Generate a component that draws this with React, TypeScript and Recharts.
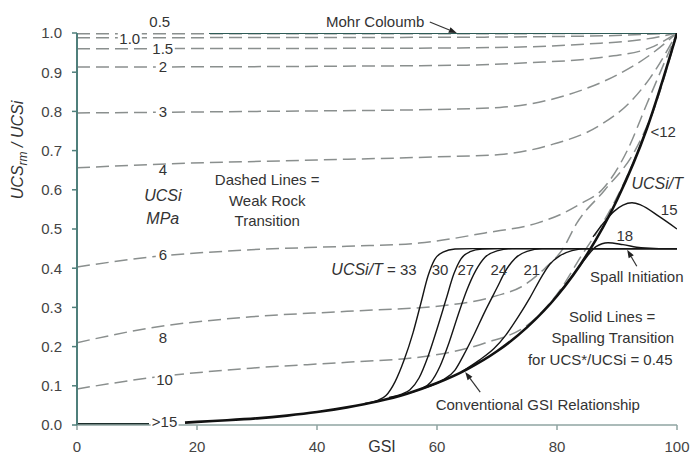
import React from "react"
import { LineChart, Line, XAxis, YAxis, ReferenceDot, ReferenceLine } from "recharts"

type Pt = [number, number]

// axis ticks
const gsiTicks = [0, 20, 40, 60, 80, 100]
const ratioTicks = [0, 0.1, 0.2, 0.3, 0.4, 0.5, 0.6, 0.7, 0.8, 0.9, 1.0]

// dashed lines: weak rock transition, one per UCSi (MPa) -> [GSI, UCSrm/UCSi]
const dash0_5: Pt[] = [[0, 0.998], [60, 0.998], [100, 1]]
const dash1_0: Pt[] = [[0, 0.988], [60, 0.989], [85, 0.992], [100, 1]]
const dash1_5: Pt[] = [[0, 0.96], [50, 0.961], [70, 0.963], [85, 0.972], [95, 0.985], [100, 1]]
const dash2: Pt[] = [[0, 0.913], [40, 0.915], [65, 0.918], [75, 0.924], [87, 0.937], [95.5, 0.962], [100, 1]]
const dash3: Pt[] = [[0, 0.796], [30, 0.8], [60, 0.805], [70.5, 0.81], [81.7, 0.842], [90, 0.893], [95.5, 0.944], [100, 1]]
const dash4: Pt[] = [[0, 0.656], [15, 0.666], [40, 0.676], [60, 0.684], [70.5, 0.69], [78.8, 0.714], [87.2, 0.765], [92.2, 0.824], [95.5, 0.885], [100, 1]]
const dash6: Pt[] = [[0, 0.403], [12, 0.428], [29, 0.447], [45, 0.456], [57, 0.464], [68, 0.49], [76.7, 0.515], [81, 0.54], [84, 0.565], [87.5, 0.6], [91.7, 0.7], [95, 0.82], [100, 1]]
const dash8: Pt[] = [[0, 0.21], [12, 0.247], [29, 0.276], [45, 0.29], [62, 0.306], [70, 0.33], [74, 0.352], [78, 0.4], [81, 0.45], [83.3, 0.515], [88, 0.6], [93, 0.7], [96, 0.8], [100, 1]]
const dash10: Pt[] = [[0, 0.092], [12, 0.12], [29, 0.145], [45, 0.16], [57, 0.173], [62, 0.185], [68, 0.209], [75.5, 0.26], [80.5, 0.344], [84, 0.43], [88, 0.525], [92, 0.645], [96, 0.8], [100, 1]]

// solid lines
const mohrColoumb: Pt[] = [[22, 1], [100, 1]]
const gsiLow: Pt[] = [[0, 0.002], [12, 0.002]]
const conventional: Pt[] = [
  [18, 0.006], [20, 0.008], [25, 0.012], [30, 0.017], [35, 0.024], [40, 0.033], [45, 0.045], [50, 0.06],
  [55, 0.08], [60, 0.107], [65, 0.142], [70, 0.188], [75, 0.249], [80, 0.329], [85, 0.435], [90, 0.574],
  [95, 0.757], [100, 1],
]
const spall33: Pt[] = [[48, 0.055], [50, 0.062], [51.5, 0.075], [53, 0.11], [54.5, 0.165], [56, 0.235], [57.3, 0.31], [58.5, 0.38], [59.6, 0.422], [61, 0.441], [63, 0.449], [66, 0.45], [100, 0.45]]
const spall30: Pt[] = [[52, 0.07], [54, 0.078], [55.5, 0.09], [57, 0.12], [58.5, 0.175], [60, 0.245], [61.5, 0.32], [62.8, 0.385], [64, 0.424], [65.5, 0.442], [67.5, 0.449], [70, 0.45], [100, 0.45]]
const spall27: Pt[] = [[55, 0.08], [57, 0.09], [59, 0.11], [60.5, 0.15], [62, 0.21], [63.5, 0.28], [65, 0.345], [66.5, 0.395], [68, 0.428], [70, 0.444], [72.5, 0.45], [100, 0.45]]
const spall24: Pt[] = [[58, 0.095], [61, 0.115], [63, 0.14], [64.5, 0.18], [66, 0.225], [68, 0.29], [70, 0.35], [71.5, 0.395], [73, 0.425], [75, 0.443], [77.5, 0.45], [100, 0.45]]
const spall21: Pt[] = [[64, 0.135], [67, 0.165], [69.5, 0.195], [71.5, 0.23], [73.5, 0.275], [75.5, 0.325], [77.5, 0.38], [78.8, 0.41], [80.5, 0.432], [82.5, 0.445], [85, 0.45], [100, 0.45]]
const spall18: Pt[] = [[80, 0.329], [83, 0.39], [85, 0.43], [86.5, 0.455], [88.5, 0.465], [91, 0.46], [94, 0.452], [97, 0.45], [100, 0.45]]
const spall15: Pt[] = [[86, 0.48], [88, 0.52], [89.5, 0.545], [91, 0.561], [92.5, 0.567], [94, 0.561], [97, 0.532], [100, 0.5]]

const rows = (pts: Pt[]) => pts.map(([x, y]) => ({ x, y }))

const FONT = "Liberation Sans, Arial, sans-serif"
const DASH = "#8a8f8e"

const Note = ({ cx, cy, text, size = 15, italic = false, bg = 0 }: any) => (
  <g>
    {bg > 0 && <rect x={cx - bg / 2} y={cy - size * 0.55} width={bg} height={size * 1.1} fill="#fff" />}
    <text x={cx} y={cy} dy="0.35em" textAnchor="middle" fontSize={size} fontStyle={italic ? "italic" : "normal"} fill="#333" fontFamily={FONT}>
      {text}
    </text>
  </g>
)

const Arrow = ({ x1, y1, x2, y2 }: any) => {
  const a = Math.atan2(y2 - y1, x2 - x1)
  const l = 8
  const w = 3
  const bx = x2 - l * Math.cos(a)
  const by = y2 - l * Math.sin(a)
  const px = -Math.sin(a) * w
  const py = Math.cos(a) * w
  return (
    <g>
      <line x1={x1} y1={y1} x2={bx} y2={by} stroke="#333" strokeWidth={1.2} />
      <polygon points={`${x2},${y2} ${bx + px},${by + py} ${bx - px},${by - py}`} fill="#222" />
    </g>
  )
}

const YTitle = () => (
  <text transform="translate(23,150) rotate(-90)" textAnchor="middle" fontStyle="italic" fontSize={16} fill="#333" fontFamily={FONT}>
    UCS<tspan fontSize={12} dy={4}>rm</tspan>
    <tspan dy={-4}> / UCSi</tspan>
  </text>
)

const XTitle = () => (
  <text x={382} y={452} textAnchor="middle" fontSize={16} fill="#333" fontFamily={FONT}>
    GSI
  </text>
)

const note = (x: number, y: number, text: any, opts: any = {}) => (
  <ReferenceDot key={String(x) + "_" + y} x={x} y={y} ifOverflow="visible" shape={(p: any) => <Note {...p} text={text} {...opts} />} />
)

const arrow = (from: Pt, to: Pt) => (
  <ReferenceLine
    key={"a" + from.join() + to.join()}
    ifOverflow="visible"
    segment={[{ x: from[0], y: from[1] }, { x: to[0], y: to[1] }]}
    shape={(p: any) => <Arrow {...p} />}
  />
)

export default function App() {
  const dashed = [dash0_5, dash1_0, dash1_5, dash2, dash3, dash4, dash6, dash8, dash10]
  const spalls = [spall33, spall30, spall27, spall24, spall21, spall18, spall15]
  return (
    <div style={{ position: "absolute", left: 0, top: 0, width: 691, height: 456, background: "#fff" }}>
      <LineChart width={691} height={456} margin={{ top: 33, right: 14, bottom: 0, left: 0 }}>
        <XAxis
          type="number"
          dataKey="x"
          domain={[0, 100]}
          ticks={gsiTicks}
          allowDataOverflow
          height={31}
          tickSize={5}
          tickMargin={11}
          axisLine={{ stroke: "#8fa5a2", strokeWidth: 1.5 }}
          tickLine={{ stroke: "#8fa5a2", strokeWidth: 1.5 }}
          tick={{ fill: "#444", fontSize: 15, fontFamily: FONT }}
          label={<XTitle />}
        />
        <YAxis
          type="number"
          domain={[0, 1]}
          ticks={ratioTicks}
          allowDataOverflow
          width={77}
          tickSize={5}
          tickMargin={10}
          tickFormatter={(v: number) => v.toFixed(1)}
          axisLine={{ stroke: "#4f7f7b", strokeWidth: 2 }}
          tickLine={{ stroke: "#4f7f7b", strokeWidth: 1.5 }}
          tick={{ fill: "#444", fontSize: 15, fontFamily: FONT }}
          label={<YTitle />}
        />
        {dashed.map((d, i) => (
          <Line key={"d" + i} data={rows(d)} dataKey="y" type="monotone" stroke={DASH} strokeWidth={1.5} strokeDasharray="13 6" dot={false} activeDot={false} isAnimationActive={false} />
        ))}
        <Line data={rows(mohrColoumb)} dataKey="y" type="linear" stroke="#2f5c57" strokeWidth={2.2} dot={false} activeDot={false} isAnimationActive={false} />
        {spalls.map((d, i) => (
          <Line key={"s" + i} data={rows(d)} dataKey="y" type="monotone" stroke="#151515" strokeWidth={1.4} dot={false} activeDot={false} isAnimationActive={false} />
        ))}
        <Line data={rows(gsiLow)} dataKey="y" type="linear" stroke="#1c2e2b" strokeWidth={2.6} dot={false} activeDot={false} isAnimationActive={false} />
        <Line data={rows(conventional)} dataKey="y" type="monotone" stroke="#111" strokeWidth={2.6} dot={false} activeDot={false} isAnimationActive={false} />

        {note(13.8, 1.028, "0.5")}
        {note(8.8, 0.985, "1.0", { bg: 24 })}
        {note(14.3, 0.961, "1.5", { bg: 24 })}
        {note(14.3, 0.913, "2", { bg: 14 })}
        {note(14.3, 0.8, "3", { bg: 14 })}
        {note(14.3, 0.65, "4")}
        {note(14.3, 0.585, "UCSi", { italic: true, size: 16 })}
        {note(14.3, 0.527, "MPa", { italic: true, size: 16 })}
        {note(14.3, 0.434, "6", { bg: 14 })}
        {note(14.3, 0.222, "8", { bg: 14 })}
        {note(14.6, 0.115, "10", { bg: 20 })}
        {note(14.6, 0.008, ">15", { bg: 28 })}
        {note(31.7, 0.626, "Dashed Lines =")}
        {note(31.7, 0.571, "Weak Rock")}
        {note(31.7, 0.52, "Transition")}
        {note(49.7, 1.028, "Mohr Coloumb")}
        {note(49.5, 0.395, <><tspan fontStyle="italic" fontSize={16}>UCSi/T</tspan><tspan>{"  =  33"}</tspan></>)}
        {note(60.5, 0.395, "30")}
        {note(64.8, 0.395, "27")}
        {note(70.3, 0.395, "24")}
        {note(75.8, 0.395, "21")}
        {note(97.7, 0.747, "<12")}
        {note(96.7, 0.617, "UCSi/T", { italic: true, size: 16 })}
        {note(98.7, 0.548, "15")}
        {note(91.3, 0.482, "18")}
        {note(93.3, 0.378, "Spall Initiation")}
        {note(89.2, 0.275, "Solid Lines =")}
        {note(89.3, 0.222, "Spalling Transition")}
        {note(87.2, 0.166, "for UCS*/UCSi = 0.45")}
        {note(76.8, 0.051, "Conventional GSI Relationship")}

        {arrow([58.8, 1.028], [63.3, 1.0])}
        {arrow([93.3, 0.405], [91.7, 0.447])}
        {arrow([67.2, 0.084], [64.7, 0.135])}
      </LineChart>
    </div>
  )
}
